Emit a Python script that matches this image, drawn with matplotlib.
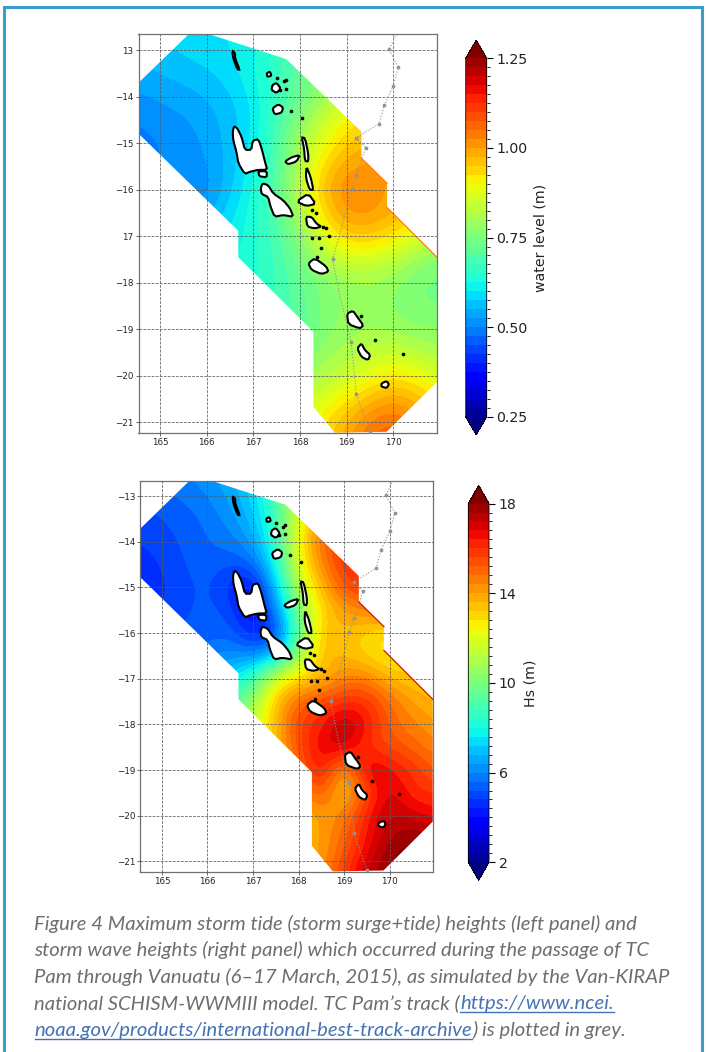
import numpy as np
import matplotlib
matplotlib.use('Agg')
import matplotlib.pyplot as plt
from matplotlib.colors import BoundaryNorm
from matplotlib.patches import Polygon, Rectangle
from matplotlib.lines import Line2D
from matplotlib.cm import ScalarMappable

W, H = 706, 1052

lons = [164.5, 165, 165.5, 166, 166.5, 167, 167.5, 168, 168.5, 169, 169.5, 170, 170.5, 171]
lats = [-12.5, -13, -13.5, -14, -14.5, -15, -15.5, -16, -16.5, -17, -17.5, -18, -18.5, -19, -19.5, -20, -20.5, -21, -21.5]

water_level = [
 [.58, .58, .59, .60, .60, .61, .64, .68, .72, .75, .78, .80, .80, .80],
 [.56, .57, .58, .59, .60, .62, .66, .70, .74, .78, .80, .82, .82, .82],
 [.54, .55, .56, .57, .59, .62, .67, .72, .77, .81, .83, .84, .84, .84],
 [.52, .53, .54, .55, .57, .61, .67, .73, .79, .85, .88, .88, .88, .88],
 [.50, .51, .52, .54, .56, .60, .68, .77, .85, .91, .93, .93, .92, .92],
 [.49, .50, .51, .53, .56, .61, .69, .81, .89, .95, .98, .98, .96, .95],
 [.49, .50, .51, .52, .56, .62, .70, .82, .94, 1.00, 1.01, 1.00, .98, .96],
 [.49, .50, .51, .51, .57, .63, .71, .84, .97, 1.03, 1.02, .99, .97, .94],
 [.50, .51, .52, .54, .59, .64, .70, .81, .94, 1.01, 1.01, .98, .93, .90],
 [.52, .53, .55, .58, .61, .64, .69, .77, .88, .95, .95, .92, .88, .84],
 [.54, .55, .58, .60, .62, .64, .68, .74, .81, .86, .86, .83, .79, .76],
 [.56, .58, .60, .62, .63, .64, .68, .72, .76, .79, .80, .78, .75, .74],
 [.58, .60, .61, .62, .63, .65, .68, .71, .76, .78, .79, .77, .75, .75],
 [.60, .61, .62, .63, .64, .66, .68, .71, .76, .79, .80, .79, .78, .77],
 [.62, .63, .64, .65, .66, .68, .71, .74, .79, .81, .84, .85, .83, .81],
 [.64, .65, .66, .67, .69, .71, .74, .78, .82, .85, .89, .92, .90, .86],
 [.66, .67, .68, .70, .72, .75, .79, .83, .88, .92, .97, 1.00, .97, .92],
 [.68, .69, .70, .72, .75, .79, .84, .88, .92, .98, 1.04, 1.06, 1.02, .96],
 [.70, .71, .72, .74, .77, .81, .86, .90, .94, 1.00, 1.06, 1.08, 1.04, .98],
]

wave_height = [
 [5.6, 5.8, 6.0, 6.3, 6.8, 7.5, 9.0, 11.0, 13.0, 14.5, 15.5, 16.0, 16.0, 16.0],
 [5.3, 5.5, 5.7, 6.0, 6.5, 7.3, 9.0, 11.5, 13.5, 15.0, 15.8, 16.0, 16.0, 16.0],
 [5.0, 5.2, 5.4, 5.7, 6.2, 7.0, 8.8, 12.0, 14.0, 15.5, 16.0, 16.2, 16.2, 16.2],
 [4.8, 5.0, 5.3, 5.6, 5.8, 6.5, 8.5, 12.5, 15.0, 16.0, 16.3, 16.3, 16.3, 16.3],
 [4.6, 4.8, 5.2, 5.5, 5.2, 5.5, 8.0, 12.0, 14.5, 16.0, 16.3, 16.3, 16.3, 16.3],
 [4.5, 4.7, 5.1, 5.3, 4.6, 3.8, 7.0, 11.5, 13.5, 15.5, 16.0, 16.0, 16.0, 16.0],
 [4.6, 4.8, 5.1, 5.4, 5.0, 3.6, 6.0, 10.0, 13.0, 14.0, 14.5, 15.0, 15.5, 15.5],
 [4.8, 5.0, 5.3, 5.4, 5.5, 4.2, 4.5, 9.5, 13.5, 13.5, 13.0, 12.5, 13.0, 13.5],
 [5.0, 5.3, 5.6, 5.8, 6.2, 6.0, 7.0, 10.5, 13.5, 13.5, 13.0, 12.5, 12.8, 13.0],
 [5.5, 5.8, 6.2, 6.6, 7.5, 8.8, 12.0, 13.0, 13.5, 14.5, 14.5, 13.5, 13.2, 13.0],
 [6.0, 6.5, 7.0, 8.0, 9.0, 10.5, 13.5, 15.0, 15.5, 16.0, 16.0, 14.8, 14.0, 13.5],
 [7.0, 7.5, 8.0, 9.0, 10.0, 11.5, 13.5, 15.8, 16.3, 17.6, 16.5, 15.0, 14.5, 14.0],
 [8.0, 8.5, 9.0, 9.5, 10.5, 12.0, 13.5, 15.5, 16.8, 17.2, 15.8, 15.5, 15.0, 14.5],
 [9.0, 9.5, 10.0, 10.5, 11.0, 12.0, 13.0, 15.0, 16.8, 13.5, 17.3, 16.5, 16.0, 15.0],
 [9.5, 10.0, 10.5, 11.0, 11.5, 12.0, 12.5, 14.0, 15.5, 13.0, 15.5, 17.2, 16.0, 16.0],
 [10.0, 10.5, 11.0, 11.5, 12.0, 12.5, 13.0, 13.5, 14.0, 14.5, 16.5, 17.3, 17.0, 16.5],
 [10.5, 11.0, 11.5, 12.0, 12.5, 13.0, 13.0, 13.5, 14.0, 15.0, 16.5, 17.6, 18.2, 17.8],
 [11.0, 11.5, 12.0, 12.5, 13.0, 13.0, 13.0, 13.5, 14.0, 15.5, 17.0, 18.2, 18.2, 17.8],
 [11.0, 11.5, 12.0, 12.5, 13.0, 13.0, 13.0, 13.5, 14.5, 16.0, 17.5, 18.2, 18.2, 18.2],
]

domain = [(165.61, -12.66), (166.07, -12.66), (167.0, -12.96), (167.71, -13.19), (169.32, -14.75),
          (169.32, -15.32), (169.87, -15.86), (169.87, -16.38), (170.94, -17.45), (170.94, -20.13),
          (169.86, -21.2), (168.75, -21.22), (168.29, -20.66), (168.29, -19.05), (166.68, -17.45),
          (166.68, -16.88), (164.54, -14.79), (164.54, -13.7)]
east_edge_a = [(169.32, -15.32), (169.87, -15.86)]
east_edge_b = [(169.87, -16.38), (170.94, -17.45)]

islands = [
 [(166.59,-14.63),(166.66,-14.68),(166.75,-14.86),(166.82,-15.14),(166.96,-15.14),(166.99,-14.94),(167.11,-14.91),
  (167.18,-15.11),(167.25,-15.39),(167.30,-15.57),(167.11,-15.57),(166.93,-15.61),(166.82,-15.66),(166.68,-15.43),
  (166.64,-15.18),(166.57,-14.93),(166.56,-14.75)],
 [(167.11,-15.60),(167.29,-15.60),(167.29,-15.73),(167.13,-15.71)],
 [(167.2,-15.86),(167.32,-15.90),(167.43,-16.08),(167.64,-16.22),(167.79,-16.40),(167.86,-16.58),(167.64,-16.54),
  (167.46,-16.58),(167.37,-16.36),(167.32,-16.15),(167.18,-16.09),(167.16,-15.97)],
 [(167.68,-15.39),(167.82,-15.30),(168.0,-15.25),(167.93,-15.39),(167.75,-15.45)],
 [(168.04,-14.87),(168.11,-14.89),(168.18,-15.22),(168.18,-15.39),(168.11,-15.38),(168.09,-15.11)],
 [(168.14,-15.50),(168.23,-15.72),(168.29,-16.0),(168.21,-16.0),(168.13,-15.75)],
 [(167.93,-16.25),(168.18,-16.08),(168.34,-16.30),(168.14,-16.35)],
 [(168.13,-16.58),(168.25,-16.58),(168.36,-16.73),(168.46,-16.79),(168.32,-16.83),(168.16,-16.79)],
 [(168.18,-17.58),(168.32,-17.47),(168.57,-17.65),(168.61,-17.76),(168.46,-17.81),(168.25,-17.72)],
 [(169.01,-18.66),(169.14,-18.60),(169.23,-18.73),(169.36,-18.91),(169.29,-18.98),(169.04,-18.89)],
 [(169.23,-19.41),(169.32,-19.30),(169.39,-19.44),(169.51,-19.55),(169.46,-19.66),(169.32,-19.59)],
 [(169.75,-20.16),(169.86,-20.11),(169.91,-20.18),(169.86,-20.26),(169.75,-20.23)],
 [(167.41,-13.75),(167.5,-13.70),(167.59,-13.82),(167.5,-13.92),(167.39,-13.85)],
 [(167.29,-13.49),(167.36,-13.46),(167.39,-13.55),(167.3,-13.57)],
 [(166.55,-13.01),(166.61,-13.06),(166.61,-13.17),(166.71,-13.42),(166.66,-13.41),(166.57,-13.17)],
 [(167.41,-14.25),(167.54,-14.16),(167.64,-14.23),(167.61,-14.34),(167.46,-14.38)],
]
islet_lon = [167.81, 168.05, 167.51, 167.66, 167.71, 167.7, 167.57, 168.27, 168.41, 168.45, 168.56, 168.62, 168.25, 168.34, 169.61, 170.21, 169.3, 168.5, 168.36]
islet_lat = [-14.30, -14.45, -13.60, -13.67, -13.64, -13.84, -13.85, -17.04, -17.04, -17.24, -16.83, -16.99, -16.43, -16.49, -19.23, -19.52, -18.71, -16.79, -17.44]

track_lon = [170.07, 169.91, 170.11, 170.0, 169.81, 169.7, 169.21, 169.41, 169.32, 169.21, 169.11, 169.0, 168.7, 168.86, 169.1, 169.21, 169.5]
track_lat = [-12.66, -12.98, -13.37, -13.77, -14.18, -14.58, -14.88, -15.09, -15.36, -15.68, -15.98, -16.43, -17.49, -18.3, -19.28, -20.39, -21.2]
track_marked = [1, 2, 3, 4, 5, 6, 7, 9, 10, 12, 14, 15, 16]

x_ticks = [165, 166, 167, 168, 169, 170]
y_ticks = [-13, -14, -15, -16, -17, -18, -19, -20, -21]
y_labels_top = ['13', '\u221214', '\u221215', '\u221216', '17', '\u221218', '\u221219', '\u221220', '\u221221']
y_labels_bottom = ['\u221213', '\u221214', '\u221215', '\u221216', '\u221217', '\u221218', '\u221219', '\u221220', '\u221221']

wl_ticks = [0.25, 0.50, 0.75, 1.00, 1.25]
hs_ticks = [2, 6, 10, 14, 18]
wl_levels = np.linspace(0.25, 1.25, 41)
hs_levels = np.linspace(2, 18, 41)

caption_color = '#6e6e6e'
link_color = '#4472b5'
frame_color = '#3a9cc9'


def box(x0, y0, x1, y1):
    return [x0 / W, 1 - y1 / H, (x1 - x0) / W, (y1 - y0) / H]


def rounded(points):
    # one pass of corner-cutting so that the coastlines do not look angular
    p = np.array(points)
    q = np.roll(p, -1, axis=0)
    return np.column_stack([0.8 * p + 0.2 * q, 0.2 * p + 0.8 * q]).reshape(-1, 2)


fig = plt.figure(figsize=(W / 100, H / 100), dpi=100, facecolor='white')
fig.add_artist(Rectangle((3.5 / W, -0.02), (702 - 3.5) / W, 1.02 - 6.5 / H, transform=fig.transFigure,
                         fill=False, edgecolor=frame_color, linewidth=2.2))


def panel(rect, field, levels, xlim, ylim, ylabels, edge_color):
    ax = fig.add_axes(box(*rect))
    cmap = plt.get_cmap('jet')
    norm = BoundaryNorm(levels, cmap.N, extend='both')
    dx = (lons[1] - lons[0]) / 2
    dy = (lats[0] - lats[1]) / 2
    im = ax.imshow(np.array(field), cmap=cmap, norm=norm, interpolation='bicubic', aspect='auto', origin='upper',
                   extent=[lons[0] - dx, lons[-1] + dx, lats[-1] - dy, lats[0] + dy], zorder=1)
    im.set_clip_path(Polygon(domain, transform=ax.transData))
    for seg in (east_edge_a, east_edge_b):
        ax.plot(*zip(*seg), color=edge_color, lw=0.9, zorder=2)
    for isl in islands:
        ax.add_patch(Polygon(rounded(isl), closed=True, facecolor='white', edgecolor='black', lw=1.5, zorder=3))
    ax.scatter(islet_lon, islet_lat, s=7, c='black', zorder=3, linewidths=0)
    ax.plot(track_lon, track_lat, color='#939393', lw=0.8, ls=':', marker='o', ms=1.7,
            markevery=track_marked, zorder=4)
    ax.set_xlim(*xlim)
    ax.set_ylim(*ylim)
    ax.set_xticks(x_ticks)
    ax.set_yticks(y_ticks)
    ax.set_yticklabels(ylabels)
    ax.tick_params(labelsize=6.3, length=2, width=0.5, pad=1.5, color='#333333', labelcolor='#222222')
    ax.grid(True, color='#5a5a5a', ls='--', lw=0.55, zorder=5)
    ax.set_axisbelow(False)
    for s in ax.spines.values():
        s.set_color('#707070')
        s.set_linewidth(0.9)
    return norm, cmap


def bar(rect, norm, cmap, ticks, fmt, label, label_x, label_y):
    cax = fig.add_axes(box(*rect))
    cb = fig.colorbar(ScalarMappable(norm=norm, cmap=cmap), cax=cax, extend='both', extendfrac=0.05,
                      spacing='proportional', ticks=ticks, format=fmt, drawedges=False)
    cb.ax.tick_params(labelsize=10.2, length=4, width=0.8, pad=3, labelcolor='#222222')
    cb.outline.set_linewidth(0.6)
    fig.text(label_x / W, 1 - label_y / H, label, rotation=90, ha='center', va='center', fontsize=10.2, color='#222222')


n1, c1 = panel((138.5, 34, 437, 432.7), water_level, wl_levels, (164.54, 170.94), (-21.22, -12.65), y_labels_top, '#ff7a20')
n2, c2 = panel((140, 481, 432.7, 872.3), wave_height, hs_levels, (164.52, 170.94), (-21.24, -12.67), y_labels_bottom, '#d01010')
bar((465.7, 40.3, 486.7, 434.8), n1, c1, wl_ticks, '%.2f', 'water level (m)', 541, 238)
bar((468.3, 485.6, 489, 880.2), n2, c2, hs_ticks, '%d', 'Hs (m)', 530, 683)

# caption
cap_font = dict(family='Lato', style='italic', fontsize=14.6, va='baseline')
lines = [
    [('Figure 4 Maximum storm tide (storm surge+tide) heights (left panel) and', False)],
    [('storm wave heights (right panel) which occurred during the passage of TC', False)],
    [('Pam through Vanuatu (6\u201317 March, 2015), as simulated by the Van-KIRAP', False)],
    [('national SCHISM-WWMIII model. TC Pam\u2019s track (', False), ('https://www.ncei.', True)],
    [('noaa.gov/products/international-best-track-archive', True), (') is plotted in grey.', False)],
]
baselines = [930, 956, 982.7, 1009, 1035.7]
renderer = fig.canvas.get_renderer()
for parts, base in zip(lines, baselines):
    x = 34.5
    for s, is_link in parts:
        t = fig.text(x / W, 1 - base / H, s, color=link_color if is_link else caption_color, **cap_font)
        ext = t.get_window_extent(renderer)
        if is_link:
            fig.add_artist(Line2D([x / W, (x + ext.width) / W], [1 - (base + 3) / H] * 2,
                                  color=link_color, lw=1.0, transform=fig.transFigure))
        x += ext.width + (3 if s.endswith(' ') else 0)

fig.savefig('out.png', dpi=100)
